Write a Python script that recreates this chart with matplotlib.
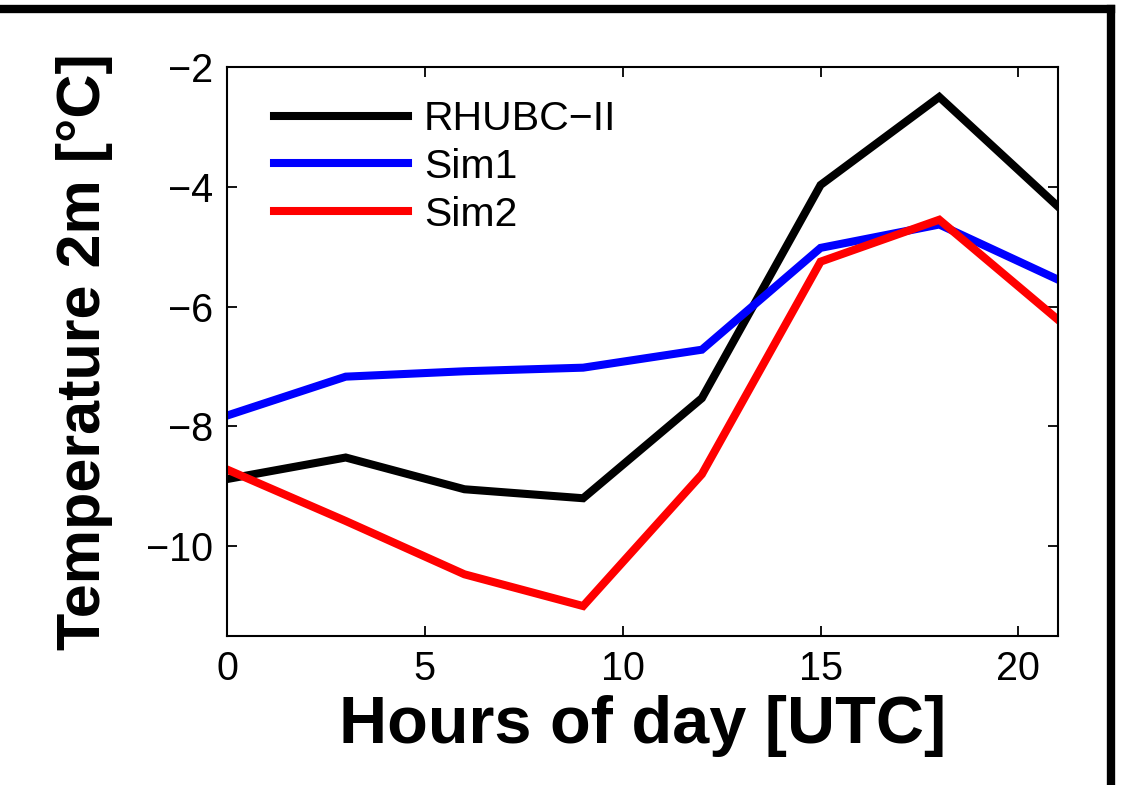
import matplotlib
matplotlib.use("Agg")
import matplotlib.pyplot as plt
from matplotlib.lines import Line2D

hours = [0, 3, 6, 9, 12, 15, 18, 21]
rhubc = [-8.88, -8.52, -9.05, -9.20, -7.53, -3.97, -2.50, -4.33]
sim1 = [-7.82, -7.17, -7.08, -7.02, -6.72, -5.02, -4.63, -5.55]
sim2 = [-8.72, -9.58, -10.47, -11.00, -8.80, -5.25, -4.55, -6.22]
labels = ["RHUBC\u2212II", "Sim1", "Sim2"]
colors = ["#000000", "#0000ff", "#ff0000"]
xticks = [0, 5, 10, 15, 20]
yticks = [-10, -8, -6, -4, -2]

plt.rcParams['font.family'] = ['Liberation Sans', 'DejaVu Sans']
plt.rcParams['axes.unicode_minus'] = True

fig = plt.figure(figsize=(11.31, 7.85), dpi=100)
W, H = 1131, 785
ax = fig.add_axes([227 / W, 1 - 636 / H, (1058 - 227) / W, (636 - 67) / H])

for y, lab, c in zip([rhubc, sim1, sim2], labels, colors):
    ax.plot(hours, y, color=c, lw=5.8, label=lab, solid_joinstyle='miter')

ax.set_xlim(0, 21)
ax.set_ylim(-11.5, -2)
ax.set_xticks(xticks)
ax.set_yticks(yticks)
ax.tick_params(direction='in', length=7, width=1.3, labelsize=28.5, top=True, right=True, pad=10)
for s in ax.spines.values():
    s.set_linewidth(1.5)

ax.set_xlabel("Hours of day [UTC]", fontsize=48, fontweight='bold', labelpad=5)
ax.set_ylabel("Temperature 2m [\u00b0C]", fontsize=44, fontweight='bold', labelpad=24)

leg = ax.legend(loc='upper left', bbox_to_anchor=(0.0566, 0.942), frameon=False, fontsize=29.5,
                handlelength=3.27, handletextpad=0.39, labelspacing=0.24, borderaxespad=0,
                borderpad=0)
for l in leg.get_lines():
    l.set_linewidth(5.8)

# outer frame (top and right edges)
fig.add_artist(Line2D([0, 1111 / W], [1 - 9 / H, 1 - 9 / H], color='black', lw=6, transform=fig.transFigure, solid_capstyle='projecting'))
fig.add_artist(Line2D([1111 / W, 1111 / W], [1 - 9 / H, 0], color='black', lw=6, transform=fig.transFigure, solid_capstyle='projecting'))

fig.savefig("out.png", dpi=100)
